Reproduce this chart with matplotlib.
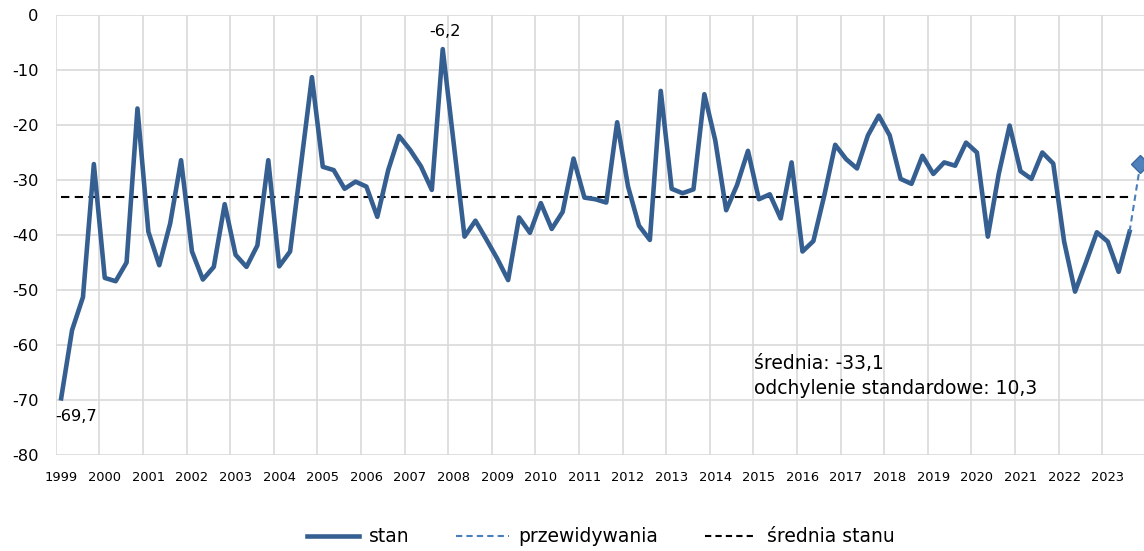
import numpy as np
import matplotlib.pyplot as plt
from matplotlib.lines import Line2D

plt.rcParams['font.family'] = ['DejaVu Sans']
plt.rcParams['axes.unicode_minus'] = False

# etykiety osi X (co 4 kwartały)
lata = ['1999', '2000', '2001', '2002', '2003', '2004', '2005', '2006', '2007',
        '2008', '2009', '2010', '2011', '2012', '2013', '2014', '2015', '2016',
        '2017', '2018', '2019', '2020', '2021', '2022', '2023']

# stan - dane kwartalne 1999Q1 - 2023Q3
stan = [-69.7, -57.3, -51.3, -27.1,
        -47.8, -48.4, -45.0, -17.0,
        -39.4, -45.5, -37.9, -26.4,
        -43.0, -48.1, -45.8, -34.4,
        -43.6, -45.8, -41.9, -26.4,
        -45.7, -43.0, -27.2, -11.3,
        -27.6, -28.2, -31.6, -30.3,
        -31.2, -36.7, -28.2, -22.0,
        -24.5, -27.5, -31.8, -6.2,
        -23.2, -40.3, -37.4, -40.8,
        -44.3, -48.2, -36.8, -39.6,
        -34.2, -38.9, -35.8, -26.1,
        -33.2, -33.5, -34.1, -19.5,
        -31.2, -38.3, -40.9, -13.8,
        -31.6, -32.4, -31.7, -14.4,
        -22.8, -35.5, -30.9, -24.7,
        -33.5, -32.6, -37.0, -26.8,
        -43.0, -41.1, -32.8, -23.6,
        -26.2, -27.9, -21.9, -18.3,
        -21.9, -29.8, -30.7, -25.6,
        -28.9, -26.8, -27.4, -23.2,
        -25.0, -40.3, -28.9, -20.1,
        -28.4, -29.8, -25.0, -27.0,
        -41.2, -50.3, -45.0, -39.5,
        -41.2, -46.7, -39.4]

# przewidywanie na 2023Q4
przewidywanie = -27.0

srednia = -33.1
odchylenie = 10.3

n = len(stan)
x = np.arange(n)

W, H = 1144, 551
fig = plt.figure(figsize=(W / 100, H / 100), dpi=100)
ax = fig.add_axes([55.7 / W, 1 - 455 / H, 1090.2 / W, 440 / H])

niebieski = '#365f91'

ax.plot(x, stan, color=niebieski, lw=3.3, zorder=4)
ax.plot([n - 1, n], [stan[-1], przewidywanie], color='#4a7ebb', lw=1.5,
        ls=(0, (3, 2)), zorder=4)
ax.plot([n], [przewidywanie], marker='D', ms=9, mfc='#4f81bd', mec='#3b6aa0',
        mew=1, ls='none', zorder=5)
ax.plot(x, [srednia] * n, color='black', lw=1.5, ls=(0, (4, 2.6)), zorder=3)

ax.set_xlim(-0.5, 99.5)
ax.set_ylim(-80, 0)
ax.set_yticks(np.arange(-80, 1, 10))
ax.set_yticklabels([str(v) for v in range(-80, 1, 10)])
ax.set_xticks(np.arange(0, 100, 4))
ax.set_xticklabels(lata)
ax.set_xticks(np.arange(-0.5, 100, 4), minor=True)

ax.grid(axis='y', color='#d9d9d9', lw=1.2)
ax.grid(axis='x', which='minor', color='#d9d9d9', lw=1.2)
ax.set_axisbelow(True)
for s in ax.spines.values():
    s.set_visible(False)
ax.tick_params(axis='both', which='both', length=0)
ax.tick_params(axis='x', labelsize=9.4, pad=11.5)
ax.tick_params(axis='y', labelsize=11.7, pad=12.5)

# etykiety danych
ax.text(-0.5, -73.0, '-69,7', fontsize=11.7, ha='left', va='center')
ax.text(35.2, -3.0, '-6,2', fontsize=11.7, ha='center', va='center')

ax.text(63.55, -63.4, 'średnia: ' + f'{srednia:.1f}'.replace('.', ','),
        fontsize=13.5, ha='left', va='center')
ax.text(63.55, -67.9, 'odchylenie standardowe: ' + f'{odchylenie:.1f}'.replace('.', ','),
        fontsize=13.5, ha='left', va='center')

uchwyty = [
    Line2D([], [], color=niebieski, lw=3.3),
    Line2D([], [], color='#4a7ebb', lw=1.5, ls=(0, (3, 2))),
    Line2D([], [], color='black', lw=1.5, ls=(0, (3, 2))),
]
fig.legend(uchwyty, ['stan', 'przewidywania', 'średnia stanu'],
           loc='center', bbox_to_anchor=(0.525, 0.026), ncol=3, frameon=False,
           fontsize=13.5, handlelength=2.8, columnspacing=2.5, handletextpad=0.5)

fig.savefig('out.png', dpi=100)
